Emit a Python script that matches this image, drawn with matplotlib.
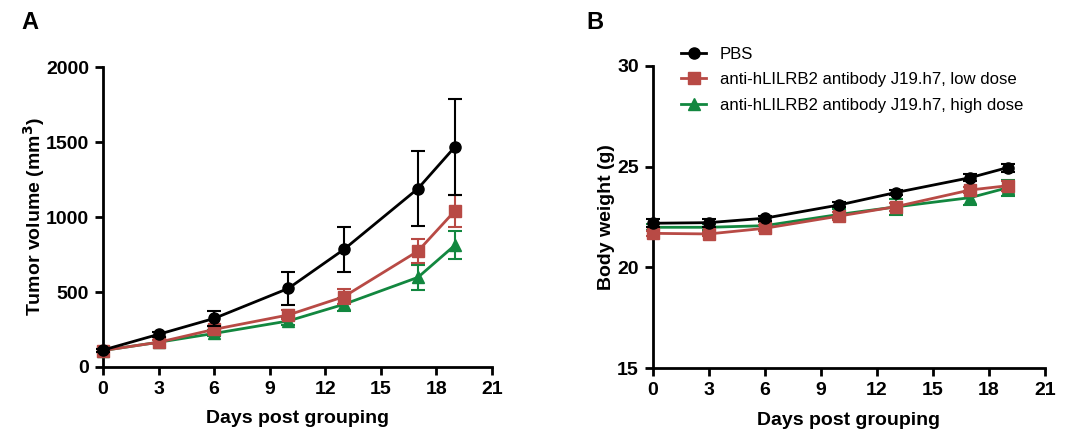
import matplotlib
matplotlib.use("Agg")
import matplotlib.pyplot as plt
from matplotlib.lines import Line2D
import numpy as np

plt.rcParams['font.family'] = ['Liberation Sans', 'DejaVu Sans']

days = [0, 3, 6, 10, 13, 17, 19]

labels = ["PBS",
          "anti-hLILRB2 antibody J19.h7, low dose",
          "anti-hLILRB2 antibody J19.h7, high dose"]

# Panel A: tumor volume (mm^3)
vol_pbs = [113, 218, 324, 524, 784, 1190, 1469]
vol_pbs_err = [10, 15, 52, 112, 152, 250, 322]
vol_low = [110, 165, 251, 347, 469, 773, 1042]
vol_low_err = [8, 12, 25, 30, 50, 78, 105]
vol_high = [110, 165, 224, 307, 418, 598, 813]
vol_high_err = [8, 12, 20, 25, 45, 82, 95]

# Panel B: body weight (g)
bw_pbs = [22.19, 22.22, 22.44, 23.10, 23.71, 24.45, 24.95]
bw_pbs_err = [0.2, 0.2, 0.12, 0.12, 0.12, 0.18, 0.2]
bw_low = [21.69, 21.66, 21.94, 22.55, 23.01, 23.84, 24.05]
bw_low_err = [0.12, 0.12, 0.15, 0.2, 0.2, 0.15, 0.25]
bw_high = [21.99, 21.99, 22.07, 22.63, 23.00, 23.46, 23.95]
bw_high_err = [0.15, 0.15, 0.2, 0.25, 0.4, 0.35, 0.4]

colors = ["#000000", "#B84A45", "#12873F"]
markers = ["o", "s", "^"]
msizes = [8, 8, 8.5]

fig = plt.figure(figsize=(10.8, 4.42), dpi=100)
axA = fig.add_axes([0.0954, 0.1697, 0.3602, 0.6783])
axB = fig.add_axes([0.6043, 0.1667, 0.3633, 0.6847])

def draw(ax, series, errs):
    for i in [2, 1, 0]:
        ax.errorbar(days, series[i], yerr=errs[i], color=colors[i], marker=markers[i],
                    markersize=msizes[i], linewidth=2, elinewidth=1.5,
                    capsize=5, capthick=1.5, zorder=3 + (2 - i))

def style(ax):
    for s in ["top", "right"]:
        ax.spines[s].set_visible(False)
    for s in ["left", "bottom"]:
        ax.spines[s].set_linewidth(2)
    ax.tick_params(width=2, length=6, labelsize=14, direction='out', pad=4)
    ax.set_xlim(0, 21)
    ax.set_xticks(range(0, 22, 3))
    ax.set_xlabel("Days post grouping", fontsize=14, fontweight='bold', labelpad=9)
    for lab in ax.get_xticklabels() + ax.get_yticklabels():
        lab.set_fontweight('bold')

draw(axA, [vol_pbs, vol_low, vol_high], [vol_pbs_err, vol_low_err, vol_high_err])
axA.set_ylim(0, 2000)
axA.set_yticks([0, 500, 1000, 1500, 2000])
style(axA)
axA.set_ylabel("Tumor volume (mm$^\\mathbf{3}$)", fontsize=14, fontweight='bold', labelpad=-1)

draw(axB, [bw_pbs, bw_low, bw_high], [bw_pbs_err, bw_low_err, bw_high_err])
axB.set_ylim(15, 30)
axB.set_yticks([15, 20, 25, 30])
style(axB)
axB.set_ylabel("Body weight (g)", fontsize=14, fontweight='bold', labelpad=1.5)

for ax in (axA, axB):
    for c in ax.get_children():
        c.set_clip_on(False)

handles = [Line2D([], [], color=colors[i], marker=markers[i], markersize=msizes[i],
                  linewidth=2) for i in range(3)]
leg = axB.legend(handles, labels, loc='upper left', bbox_to_anchor=(0.055, 1.085),
                 frameon=False, fontsize=12.1, handlelength=1.5, handletextpad=0.8,
                 labelspacing=0.62, borderaxespad=0)

fig.text(0.020, 0.935, "A", fontsize=17, fontweight='bold')
fig.text(0.543, 0.935, "B", fontsize=17, fontweight='bold')

fig.savefig("out.png", dpi=100)
